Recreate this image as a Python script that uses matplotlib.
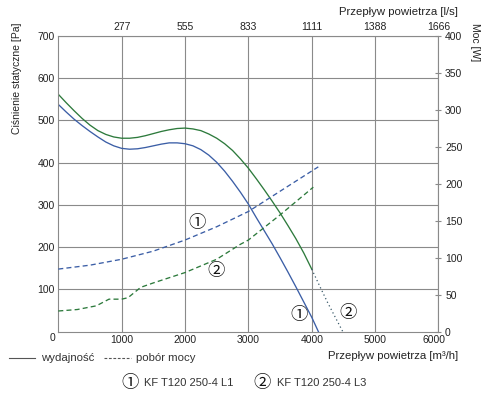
import matplotlib
matplotlib.use("Agg")
import matplotlib.pyplot as plt
from matplotlib.lines import Line2D
import matplotlib.transforms as mtransforms

plt.rcParams['font.family'] = ['Liberation Sans', 'DejaVu Sans']

# ---- data ----
# static pressure curves [Pa] vs airflow [m3/h]
l1_flow = [0, 125, 250, 375, 500, 625, 750, 875, 1000, 1125, 1250, 1375, 1500, 1625, 1750, 1875,
           2000, 2125, 2250, 2375, 2500, 2625, 2750, 2875, 3000, 3125, 3250, 3375, 3500, 3625,
           3750, 3875, 4000, 4105]
l1_press = [538, 520, 503, 488, 474, 461, 449, 440, 434, 432, 433, 436, 440, 444, 447, 447,
            445, 440, 431, 418, 401, 380, 356, 330, 302, 270, 239, 208, 175, 141,
            106, 70, 34, 0]

l3_flow = [0, 125, 250, 375, 500, 625, 750, 875, 1000, 1125, 1250, 1375, 1500, 1625, 1750, 1875,
           2000, 2125, 2250, 2375, 2500, 2625, 2750, 2875, 3000, 3125, 3250, 3375, 3500, 3625,
           3750, 3875, 4000]
l3_press = [562, 542, 523, 505, 489, 476, 467, 461, 458, 458, 460, 464, 469, 474, 478, 481,
            482, 480, 476, 468, 458, 445, 429, 409, 387, 362, 336, 309, 281, 251,
            220, 186, 148]

l3_ext_flow = [4000, 4125, 4250, 4375, 4490]
l3_ext_press = [148, 108, 69, 33, 0]

# power curves [W] vs airflow [m3/h]
l1_pow_flow = [0, 500, 1000, 1500, 2000, 2500, 3000, 3500, 4103]
l1_pow = [84.7, 90, 98, 109, 124, 142, 162.6, 190, 223]

l3_pow_flow = [0, 300, 600, 800, 1000, 1100, 1300, 1500, 2000, 2500, 2869, 3000, 3500, 4024]
l3_pow = [28, 30, 35, 44, 44, 46, 60, 66, 80, 98, 118, 124, 158, 195.5]

x_ticks = [1000, 2000, 3000, 4000, 5000, 6000]
top_labels = ['277', '555', '833', '1111', '1388', '1666']
y_ticks = [100, 200, 300, 400, 500, 600, 700]
w_ticks = [0, 50, 100, 150, 200, 250, 300, 350, 400]

blue = '#3b5ea6'
green = '#2d7a3c'
gridc = '#8a8a8a'
txt = '#222222'
fs = 7.5
fs2 = 8.2

W, H = 485, 398
fig = plt.figure(figsize=(W / 100, H / 100), dpi=100)
ax = fig.add_axes([58.3 / W, (H - 331.7) / H, 380.2 / W, 295.7 / H])
ax.set_xlim(0, 6000)
ax.set_ylim(0, 700)

ax.set_xticks(x_ticks)
ax.set_xticklabels([str(v) for v in x_ticks])
ax.set_yticks(y_ticks)
ax.set_yticklabels([str(v) for v in y_ticks])
ax.tick_params(axis='both', length=0, labelsize=fs, labelcolor=txt)
ax.tick_params(axis='x', pad=2.5)
ax.tick_params(axis='y', pad=2.5)
ax.grid(True, color=gridc, lw=0.8)
ax.set_axisbelow(True)
for s in ax.spines.values():
    s.set_color(gridc)
    s.set_linewidth(0.8)

# last bottom label sits slightly left of its gridline, as in the original
last = ax.get_xticklabels()[-1]
last.set_transform(last.get_transform() + mtransforms.ScaledTranslation(-4 / 100, 0, fig.dpi_scale_trans))

ax.annotate('0', xy=(0, 0), xytext=(-6, -6), textcoords='offset pixels',
            ha='center', va='center', fontsize=fs, color=txt)

ax.plot(l1_flow, l1_press, color=blue, lw=0.95, solid_joinstyle='round')
ax.plot(l3_flow, l3_press, color=green, lw=0.95, solid_joinstyle='round')
ax.plot(l3_ext_flow, l3_ext_press, color='#3a5a6a', lw=0.9, linestyle=(0, (1, 2.2)))

# top axis
top = ax.secondary_xaxis('top')
top.set_xticks(x_ticks)
top.set_xticklabels(top_labels)
top.tick_params(length=0, labelsize=fs, labelcolor=txt, pad=3)
top.spines['top'].set_visible(False)

# right axis (power)
axr = ax.twinx()
axr.set_ylim(0, 400)
axr.set_yticks(w_ticks)
axr.set_yticklabels([str(v) for v in w_ticks])
axr.tick_params(axis='y', direction='inout', length=4.5, width=0.8, color=gridc,
                labelsize=fs, labelcolor=txt, pad=2.5)
for s in axr.spines.values():
    s.set_visible(False)
axr.plot(l1_pow_flow, l1_pow, color=blue, lw=0.95, linestyle=(0, (3.8, 2.4)))
axr.plot(l3_pow_flow, l3_pow, color=green, lw=0.95, linestyle=(0, (3.8, 2.4)))

# circled labels
cfam = ['Noto Sans CJK JP', 'DejaVu Sans']
for (xv, yv, s) in [(2195, 257, '\u2460'), (2490, 143, '\u2461'), (3806, 40, '\u2460'), (4570, 44, '\u2461')]:
    ax.text(xv, yv, s, family=cfam, fontsize=12.5, ha='center', va='center', color='#111111')

# axis titles
fig.text(17 / W, 1 - 78 / H, 'Ciśnienie statyczne [Pa]', rotation=90, ha='center', va='center',
         fontsize=fs, color=txt)
fig.text(475 / W, 1 - 42 / H, 'Moc [W]', rotation=270, ha='center', va='center',
         fontsize=fs, color=txt)
fig.text(458 / W, 1 - 12 / H, 'Przepływ powietrza [l/s]', ha='right', va='center',
         fontsize=fs2, color=txt)
fig.text(458 / W, 1 - 356 / H, 'Przepływ powietrza [m³/h]', ha='right', va='center',
         fontsize=fs2, color=txt)

# legend row 1
ly = 1 - 358 / H
fig.add_artist(Line2D([9 / W, 35 / W], [ly, ly], color='#555555', lw=0.8))
fig.text(41 / W, ly, 'wydajność', ha='left', va='center', fontsize=fs2, color='#333333')
fig.add_artist(Line2D([104 / W, 131 / W], [ly, ly], color='#555555', lw=0.8, linestyle=(0, (2.5, 1.5))))
fig.text(136 / W, ly, 'pobór mocy', ha='left', va='center', fontsize=fs2, color='#333333')

# legend row 2
ly2 = 1 - 383 / H
fig.text(130 / W, ly2, '\u2460', family=cfam, fontsize=12.5, ha='center', va='center', color='#111111')
fig.text(144 / W, ly2, 'KF T120 250-4 L1', ha='left', va='center', fontsize=8, color='#333333')
fig.text(262 / W, ly2, '\u2461', family=cfam, fontsize=12.5, ha='center', va='center', color='#111111')
fig.text(277 / W, ly2, 'KF T120 250-4 L3', ha='left', va='center', fontsize=8, color='#333333')

fig.savefig('out.png', dpi=100)
